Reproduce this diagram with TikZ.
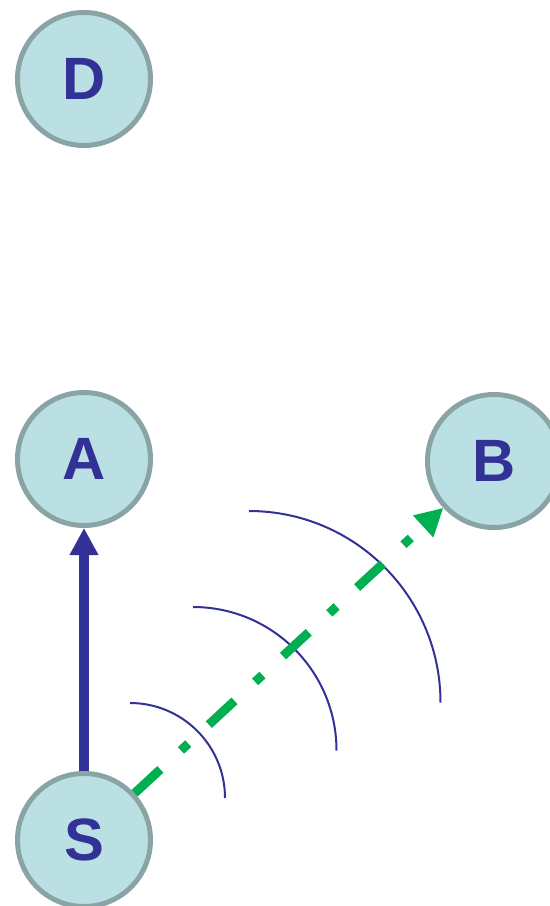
\documentclass[tikz,border=0pt]{standalone}
\usepackage{fontspec}
\setmainfont{Liberation Sans}
\usetikzlibrary{arrows.meta}
\definecolor{nodefill}{RGB}{187,224,227}
\definecolor{nodeedge}{RGB}{138,164,166}
\definecolor{navy}{RGB}{50,50,150}
\definecolor{signal}{RGB}{0,175,80}
\begin{document}
\begin{tikzpicture}[
    station/.style={circle, draw=nodeedge, fill=nodefill, line width=0.1cm,
                    minimum size=2.66cm, inner sep=0pt, text=navy,
                    font=\fontsize{34}{40}\selectfont\bfseries},
    link/.style={-{Triangle[length=0.54cm, width=0.54cm]}, navy, line width=0.2cm},
    broadcast/.style={-{Triangle[length=0.55cm, width=0.56cm]}, signal, line width=0.18cm,
                      dash pattern=on 0.7cm off 0.56cm on 0.2cm off 0.56cm},
    wave/.style={navy, line width=0.04cm},
]
    \useasboundingbox (0,0) rectangle (11,-18.12);

    % Stations
    \node[station] (D) at (1.68, -1.58) {D};
    \node[station] (A) at (1.68, -9.18) {A};
    \node[station] (B) at (9.88, -9.22) {B};
    \node[station] (S) at (1.68, -16.8) {S};

    % Wavefronts
    \draw[wave] (2.6, -14.06) arc[start angle=90, end angle=0, radius=1.9];
    \draw[wave] (3.86, -12.14) arc[start angle=90, end angle=0, radius=2.87];
    \draw[wave] (4.98, -10.22) arc[start angle=90, end angle=0, radius=3.83];

    \draw[link] (S) -- (A);
    \draw[broadcast] (S) -- (B);
\end{tikzpicture}
\end{document}
